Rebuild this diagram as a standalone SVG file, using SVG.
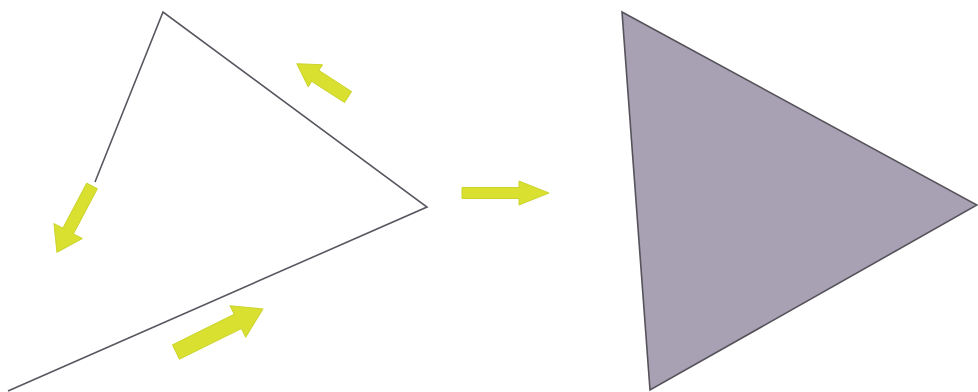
<svg xmlns="http://www.w3.org/2000/svg" width="978" height="392" viewBox="0 0 978 392">
  <style>
    .edge { fill: none; stroke: #5a5660; stroke-width: 1.6; stroke-linejoin: miter; }
    .filled { fill: #a8a0b3; stroke: #55525a; stroke-width: 1.6; stroke-linejoin: miter; }
    .arrow { fill: #d9e030; stroke: #ccd42c; stroke-width: 1; stroke-linejoin: round; }
  </style>
  <rect width="978" height="392" fill="#ffffff"/>
  <g id="open-outline">
    <polyline class="edge" points="8,391 427,207 163,12 95,182"/>
  </g>
  <g id="filled-triangle">
    <polygon class="filled" points="622,12 977,205 650,390"/>
  </g>
  <g id="connectors">
    <!-- up-left arrow -->
    <polygon class="arrow" transform="translate(348,97) rotate(-147)" points="0,-6.5 39,-6.5 39,-13 61,0 39,13 39,6.5 0,6.5"/>
    <!-- down-left arrow -->
    <polygon class="arrow" transform="translate(92,186) rotate(117.9)" points="0,-6 51,-6 51,-16 75,0 51,16 51,6 0,6"/>
    <!-- bottom arrow -->
    <polygon class="arrow" transform="translate(176,352) rotate(-26.3)" points="0,-8 69,-8 69,-17.5 97,0 69,17.5 69,8 0,8"/>
    <!-- middle arrow -->
    <polygon class="arrow" transform="translate(462,193)" points="0,-5.5 57,-5.5 57,-12 87,0 57,12 57,5.5 0,5.5"/>
  </g>
</svg>
